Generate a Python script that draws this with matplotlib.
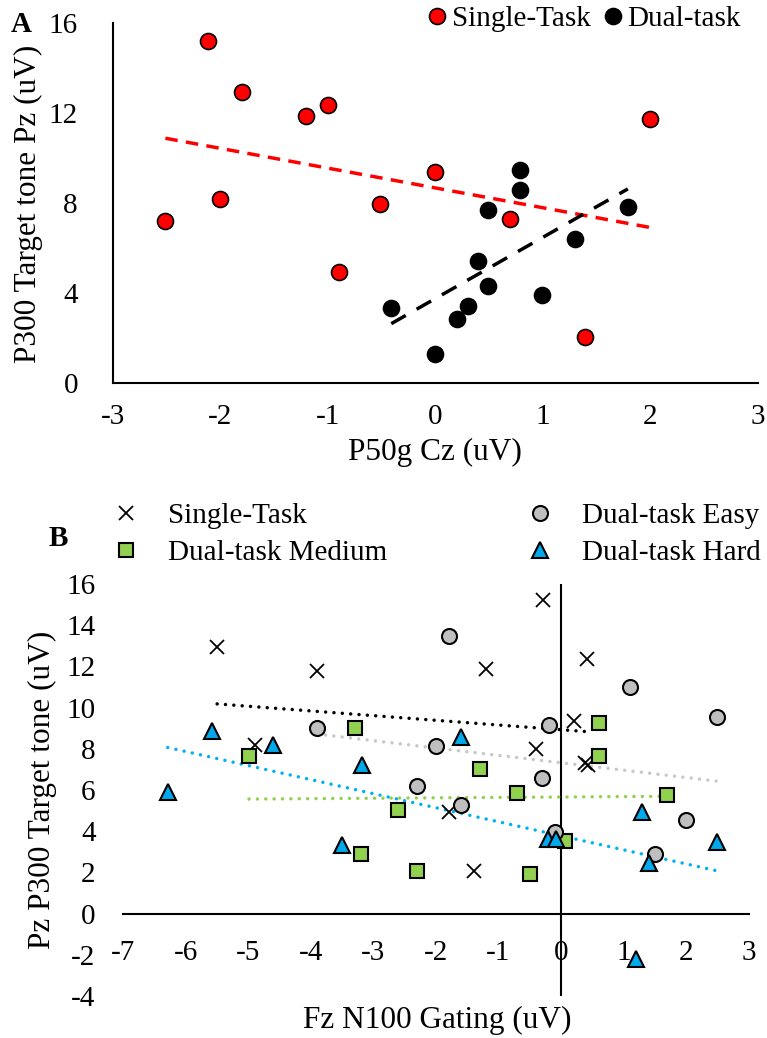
import numpy as np
import matplotlib.pyplot as plt

plt.rcParams['font.family'] = ['Liberation Serif', 'DejaVu Serif']
plt.rcParams['font.size'] = 21
plt.rcParams['axes.unicode_minus'] = False

# Panel A: P50g Cz vs P300 target tone Pz
a_single_x = [-2.11, -1.80, -1.20, -1.00, 2.00, 0.00, -2.00, -2.51, -0.51, 0.69, -0.90, 1.39]
a_single_y = [15.20, 12.92, 11.85, 12.34, 11.74, 9.36, 8.18, 7.20, 7.97, 7.29, 4.93, 2.04]
a_dual_x = [0.79, 0.79, 0.49, 1.79, 1.30, 0.40, 0.49, 0.99, -0.41, 0.30, 0.20, 0.00]
a_dual_y = [9.46, 8.57, 7.69, 7.81, 6.41, 5.41, 4.31, 3.92, 3.34, 3.41, 2.85, 1.27]

# Panel B: Fz N100 gating vs Pz P300 target tone
b_single_x = [-5.50, -3.90, -4.90, -0.29, -1.20, -0.40, -1.80, -1.40, 0.41, 0.21, 0.38, 0.43]
b_single_y = [12.92, 11.78, 8.18, 15.24, 11.88, 7.97, 4.93, 2.07, 12.38, 9.36, 7.29, 7.20]
b_easy_x = [-3.90, -1.80, -0.20, -2.00, -0.31, -2.30, -1.60, -0.09, 1.10, 2.49, 2.00, 1.51]
b_easy_y = [9.00, 13.47, 9.15, 8.12, 6.59, 6.17, 5.25, 3.96, 11.00, 9.52, 4.56, 2.88]
b_medium_x = [-4.99, -3.29, -1.30, -0.70, -2.60, 0.07, -3.20, -2.30, -0.50, 0.60, 0.60, 1.70]
b_medium_y = [7.63, 9.00, 7.02, 5.86, 5.05, 3.51, 2.87, 2.07, 1.91, 9.23, 7.67, 5.77]
b_hard_x = [-5.59, -4.60, -6.29, -3.50, -1.60, -3.19, -0.21, -0.08, 1.30, 2.49, 1.40, 1.20]
b_hard_y = [8.88, 8.20, 5.90, 3.32, 8.58, 7.19, 3.64, 3.64, 4.92, 3.48, 2.47, -2.20]

LABEL_SIZE = 22.5


def trend(ax, x, y, **kw):
    x = np.asarray(x)
    k, b = np.polyfit(x, np.asarray(y), 1)
    xs = np.array([x.min(), x.max()])
    ax.plot(xs, k * xs + b, **kw)


fig = plt.figure(figsize=(7.67, 10.38), dpi=100)

# ---- A ----
axA = fig.add_axes([0.1469, 0.6310, 0.8414, 0.3469])
trend(axA, a_single_x, a_single_y, color='#FF0000', lw=2.5, linestyle=(0, (3.6, 2.4)), zorder=2)
trend(axA, a_dual_x, a_dual_y, color='black', lw=2.5, linestyle=(0, (4.8, 3.6)), zorder=2)
axA.plot(a_single_x, a_single_y, 'o', ms=11.5, mfc='#FF0000', mec='black', mew=1.2,
         label='Single-Task', zorder=3)
axA.plot(a_dual_x, a_dual_y, 'o', ms=11.5, mfc='black', mec='black', mew=1.2,
         label='Dual-task', zorder=3)
axA.set_xlim(-3, 3)
axA.set_ylim(0, 16)
axA.set_xticks(range(-3, 4))
axA.set_yticks([0, 4, 8, 12, 16])
for s in ['top', 'right']:
    axA.spines[s].set_visible(False)
for s in ['left', 'bottom']:
    axA.spines[s].set_linewidth(1.5)
axA.tick_params(axis='x', length=0, pad=15)
axA.tick_params(axis='y', length=0, pad=25)
axA.legend(loc='upper left', bbox_to_anchor=(430 / 767, 1 - 6 / 1038),
           bbox_transform=fig.transFigure, ncol=2, frameon=False, borderpad=0,
           borderaxespad=0, handlelength=0.5, handletextpad=0.25, columnspacing=0.5)
fig.text(435 / 767, 1 - 452 / 1038, 'P50g Cz (uV)', ha='center', va='center',
         fontsize=LABEL_SIZE)
fig.text(28 / 767, 1 - 204 / 1038, 'P300 Target tone Pz (uV)', rotation=90,
         ha='center', va='center', fontsize=LABEL_SIZE)
fig.text(21 / 767, 1 - 25 / 1038, 'A', ha='center', va='center', fontweight='bold')

# ---- B ----
axB = fig.add_axes([0.1608, 0.0405, 0.8153, 0.3969])
dot = (0, (0.01, 2.4))
trend(axB, b_single_x, b_single_y, color='black', lw=2.5, linestyle=dot,
      dash_capstyle='round', zorder=2)
trend(axB, b_easy_x, b_easy_y, color='#C8C8C8', lw=2.5, linestyle=dot,
      dash_capstyle='round', zorder=2)
trend(axB, b_medium_x, b_medium_y, color='#92D050', lw=2.5, linestyle=dot,
      dash_capstyle='round', zorder=2)
trend(axB, b_hard_x, b_hard_y, color='#00B0F0', lw=2.5, linestyle=dot,
      dash_capstyle='round', zorder=2)
axB.plot(b_single_x, b_single_y, 'x', ms=9.5, mec='black', mew=1.3,
         label='Single-Task', zorder=3)
axB.plot(b_medium_x, b_medium_y, 's', ms=10, mfc='#92D050', mec='black', mew=1.5,
         label='Dual-task Medium', zorder=3)
axB.plot(b_easy_x, b_easy_y, 'o', ms=10.8, mfc='#BFBFBF', mec='black', mew=1.5,
         label='Dual-task Easy', zorder=3)
axB.plot(b_hard_x, b_hard_y, '^', ms=11, mfc='#00A8EC', mec='black', mew=1.5,
         label='Dual-task Hard', zorder=3)
axB.set_xlim(-7, 3)
axB.set_ylim(-4, 16)
axB.set_xticks(range(-7, 4))
axB.set_yticks(range(-4, 17, 2))
for s in ['top', 'right', 'left']:
    axB.spines[s].set_visible(False)
axB.spines['bottom'].set_position(('data', 0))
axB.spines['bottom'].set_linewidth(1.5)
axB.axvline(0, color='black', lw=1.5, zorder=1)
axB.tick_params(axis='x', length=0, pad=19)
axB.tick_params(axis='y', length=0, pad=20)
axB.legend(loc='upper left', bbox_to_anchor=(111 / 767, 1 - 503 / 1038),
           bbox_transform=fig.transFigure, ncol=2, frameon=False, borderpad=0,
           borderaxespad=0, handlelength=1.0, handletextpad=0.94, columnspacing=4.75,
           labelspacing=0.35)
fig.text(437 / 767, 1 - 1020 / 1038, 'Fz N100 Gating (uV)', ha='center', va='center',
         fontsize=LABEL_SIZE)
fig.text(42 / 767, 1 - 790 / 1038, 'Pz P300 Target tone (uV)', rotation=90,
         ha='center', va='center', fontsize=LABEL_SIZE)
fig.text(58 / 767, 1 - 538 / 1038, 'B', ha='center', va='center', fontweight='bold')

fig.savefig('out.png', dpi=100)
